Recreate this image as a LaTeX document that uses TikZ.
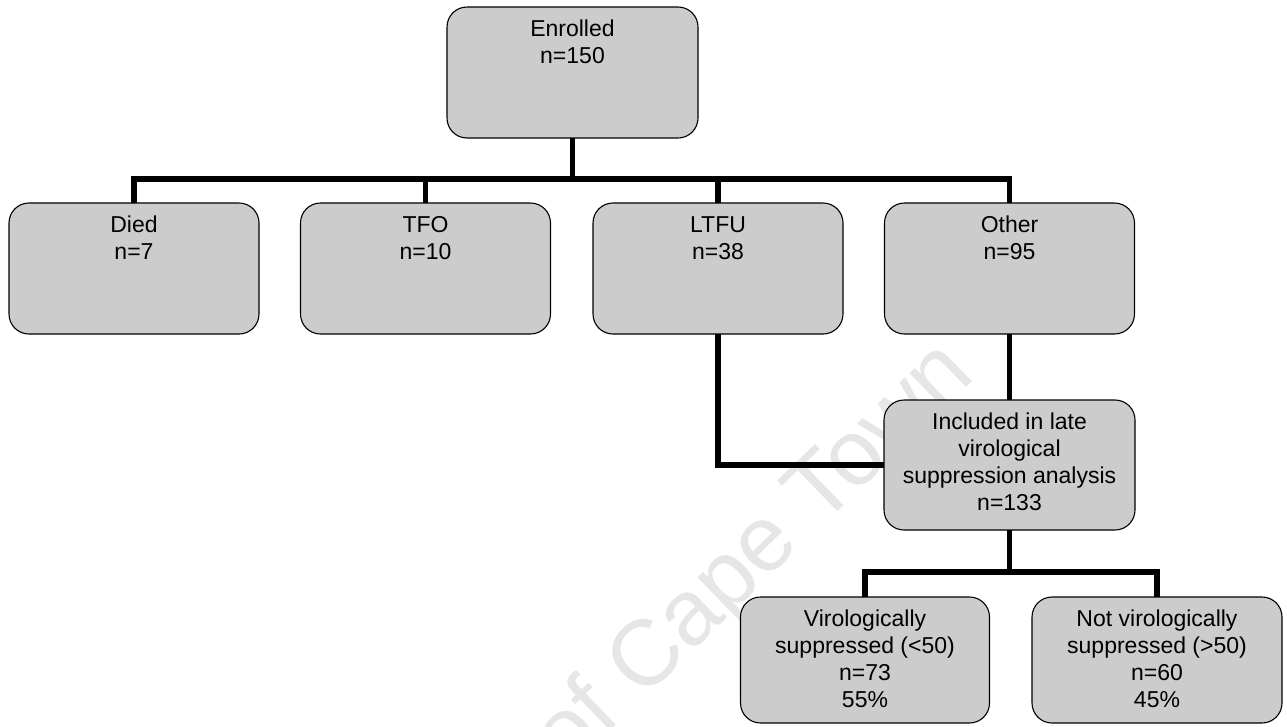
\documentclass[tikz,border=0pt]{standalone}
\usepackage{fontspec}
\setmainfont{Liberation Sans}
\definecolor{boxgray}{RGB}{204,204,204}
\definecolor{markgray}{RGB}{230,230,230}
% top-aligned, centred box text
\newcommand{\boxtext}[3]{\parbox[c][#1pt][t]{#2pt}{\centering\vspace*{11pt}\strut #3\par}}
\begin{document}
\begin{tikzpicture}[x=1pt,y=-1pt,
  box/.style={draw=black, line width=1.1pt, fill=boxgray, rounded corners=20pt,
              inner sep=0pt, outer sep=0pt, font=\fontsize{23}{27}\selectfont},
  conn/.style={draw=black, line width=5.5pt},
  wmtext/.style={text=markgray, font=\fontsize{93}{98}\selectfont, rotate=44, inner sep=0pt}]
\useasboundingbox (0,0) rectangle (1287,726);

% background watermark
\begin{scope}
  \clip (0,0) rectangle (1287,726);
  \node[wmtext, anchor=base east] (wm) at (977,377) {University of Cape Town};
\end{scope}

% boxes
\node[box] (enr)   at (572.5,72.5)  {\boxtext{131}{251}{Enrolled\\n=150}};
\node[box] (died)  at (134,268.5)   {\boxtext{131}{250}{Died\\n=7}};
\node[box] (tfo)   at (425.5,268.5) {\boxtext{131}{250}{TFO\\n=10}};
\node[box] (ltfu)  at (718,268.5)   {\boxtext{131}{250}{LTFU\\n=38}};
\node[box] (other) at (1009.5,268.5){\boxtext{131}{250}{Other\\n=95}};
\node[box] (incl)  at (1009.5,465)  {\boxtext{130}{251}{Included in late\\virological\\suppression analysis\\n=133}};
\node[box] (viro)  at (865,660)     {\boxtext{126}{249}{Virologically\\suppressed (<50)\\n=73\\55\%}};
\node[box] (notv)  at (1157,660)    {\boxtext{126}{250}{Not virologically\\suppressed (>50)\\n=60\\45\%}};

% branching levels
\coordinate (hb) at (0,179);
\coordinate (lb) at (0,572);

% connectors
\draw[conn] (enr.south) -- (enr.south |- hb);
\draw[conn] (died.north) |- (other.north |- hb) -- (other.north);
\draw[conn] (tfo.north) -- (tfo.north |- hb);
\draw[conn] (ltfu.north) -- (ltfu.north |- hb);
\draw[conn] (ltfu.south) |- (incl.west);
\draw[conn] (other.south) -- (incl.north);
\draw[conn] (incl.south) -- (incl.south |- lb);
\draw[conn] (viro.north) |- (notv.north |- lb) -- (notv.north);
\end{tikzpicture}
\end{document}
